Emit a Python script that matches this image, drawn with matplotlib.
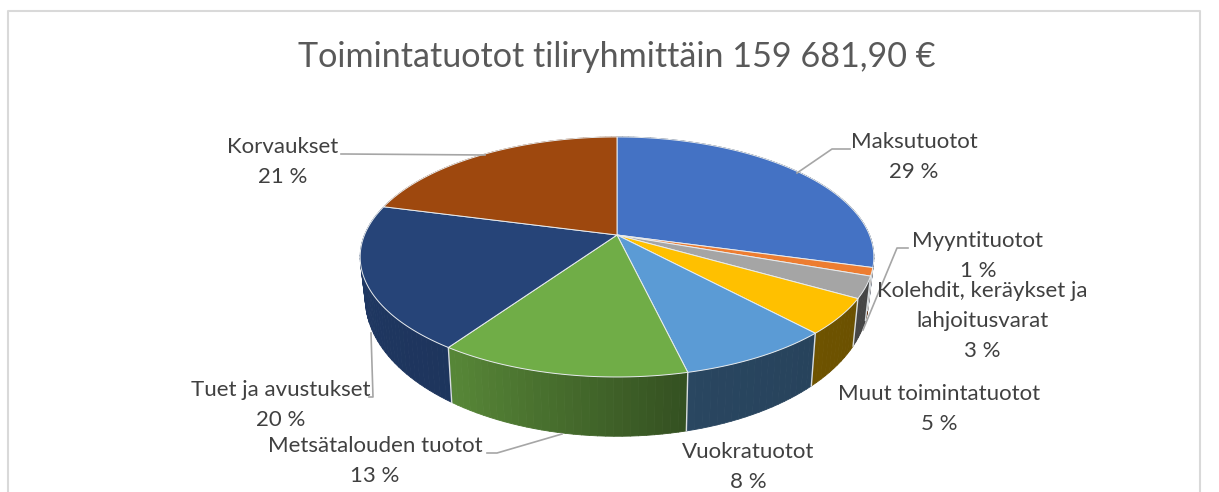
import numpy as np
import matplotlib
matplotlib.use('Agg')
import matplotlib.pyplot as plt
from matplotlib.collections import PolyCollection
from matplotlib.patches import Polygon

plt.rcParams['font.family'] = ['Lato', 'DejaVu Sans']

title = "Toimintatuotot tiliryhmittäin 159 681,90 €"
categories = ["Maksutuotot", "Myyntituotot", "Kolehdit, keräykset ja\nlahjoitusvarat",
              "Muut toimintatuotot", "Vuokratuotot", "Metsätalouden tuotot",
              "Tuet ja avustukset", "Korvaukset"]
shares = [29.3, 1.1, 2.9, 4.8, 8.2, 13.3, 19.5, 20.9]
colors = ["#4472c4", "#ed7d31", "#a5a5a5", "#ffc000", "#5b9bd5", "#70ad47", "#264478", "#9e480e"]

# label centre (x, y of the first line) and leader line, in image pixels
label_pos = [(914, 142), (978, 241), (982, 291), (939, 394), (748, 452), (375, 446), (281, 390), (283, 147)]
leaders = [
    [(850, 149), (832, 149), (797, 173)],
    [(908, 248), (897, 248), (863, 330)],
    None,
    None,
    None,
    [(487, 453), (497, 453), (562, 434)],
    [(369, 397), (373, 397), (371, 333)],
    [(341, 154), (345, 154), (485, 155)],
]

# projection of the pie, fitted to the picture
CX, CY = 617, 235
RX, RY, PERSP = 252.5, 116, 0.183
SIDE_XS, SIDE_YS, SIDE_DY = 0.98, 1.15, 38

TEXT = "#404040"


def rim(theta):
    """Top rim point for clockwise angle from 12 o'clock, in radians."""
    s = 1 / (1 + PERSP * np.cos(theta))
    return RX * np.sin(theta) * s, RY * np.cos(theta) * s


def top_xy(theta):
    x, y = rim(theta)
    return np.column_stack([CX + x, CY - y])


def bottom_xy(theta):
    x, y = rim(theta)
    return np.column_stack([CX + SIDE_XS * x, CY - SIDE_YS * y + SIDE_DY])


def shade(color, deg):
    """Darken a slice colour for the side wall, depending on where it faces."""
    f = np.interp(deg, [90, 165, 212, 290], [0.40, 0.45, 0.77, 0.85])
    return tuple(c * f for c in matplotlib.colors.to_rgb(color))


fig = plt.figure(figsize=(12.19, 4.92), dpi=100)
ax = fig.add_axes([0, 0, 1, 1])
ax.set_xlim(0, 1219)
ax.set_ylim(492, 0)
ax.axis('off')

# chart frame, bottom edge is cut off in the original
ax.plot([7.5, 7.5, 1199.5, 1199.5], [492, 10.5, 10.5, 492], color="#d9d9d9", lw=1.5, zorder=1)

edges = 2 * np.pi * np.concatenate([[0], np.cumsum(shares)]) / sum(shares)

# side walls first, the top covers whatever is hidden
for i, color in enumerate(colors):
    steps = max(int((edges[i + 1] - edges[i]) / np.radians(1.5)), 2)
    th = np.linspace(edges[i], edges[i + 1], steps + 1)
    a, b = top_xy(th), bottom_xy(th)
    quads = [[a[j], a[j + 1], b[j + 1], b[j]] for j in range(steps)]
    cols = [shade(color, np.degrees(t)) for t in (th[:-1] + th[1:]) / 2]
    ax.add_collection(PolyCollection(quads, facecolors=cols, edgecolors=cols, linewidths=0.6, zorder=2))
    # light seam between walls
    ax.plot([a[0, 0], b[0, 0]], [a[0, 1], b[0, 1]], color="#d8dde0", lw=1.0, zorder=2.5)

# top face
for i, color in enumerate(colors):
    th = np.linspace(edges[i], edges[i + 1], 80)
    pts = np.vstack([[CX, CY], top_xy(th)])
    ax.add_patch(Polygon(pts, closed=True, facecolor=color, edgecolor="#e8ecef", lw=0.7, zorder=3))

ax.text(617, 57, title, fontsize=24.6, color="#595959", ha='center', va='center')

for i, name in enumerate(categories):
    x, y = label_pos[i]
    lines = name.split("\n") + [f"{shares[i]:.0f} %"]
    for j, line in enumerate(lines):
        ax.text(x, y + j * 30, line, fontsize=16, color=TEXT, ha='center', va='center', zorder=5)
    if leaders[i]:
        xs, ys = zip(*leaders[i])
        ax.plot(xs, ys, color="#a6a6a6", lw=1.2, zorder=4)

fig.savefig("out.png", dpi=100, facecolor="white")
